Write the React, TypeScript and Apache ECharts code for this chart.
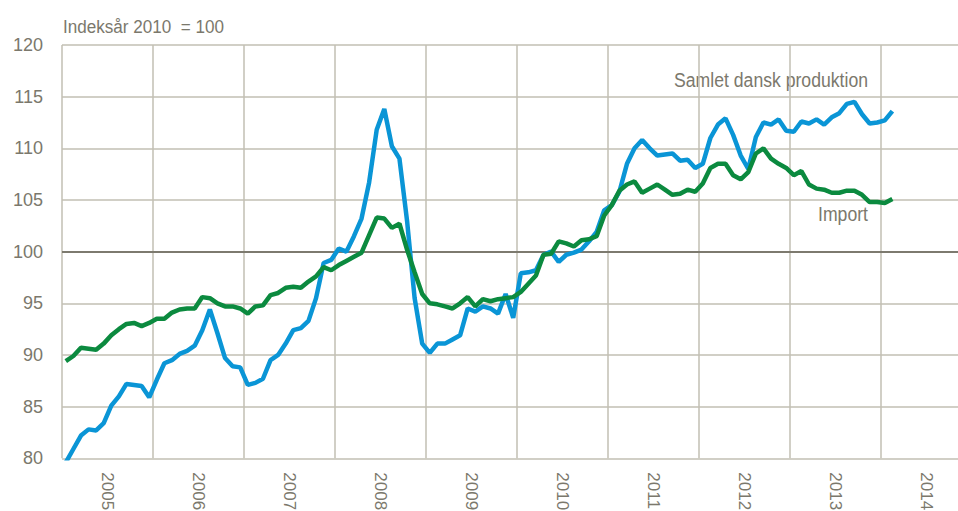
import React, { useEffect, useRef } from "react";
import * as echarts from "echarts";

const years = ["2005", "2006", "2007", "2008", "2009", "2010", "2011", "2012", "2013", "2014"];

const samletDanskProduktion = [
  79.6, 80.9, 82.2, 82.8, 82.7, 83.4, 85.1, 86.0, 87.2, 87.1, 87.0, 85.9,
  87.6, 89.2, 89.5, 90.1, 90.4, 90.9, 92.4, 94.4, 92.1, 89.7, 88.9, 88.8,
  87.1, 87.3, 87.7, 89.5, 90.0, 91.1, 92.4, 92.6, 93.3, 95.5, 98.9, 99.2,
  100.3, 100.0, 101.5, 103.2, 106.7, 111.8, 113.8, 110.2, 109.0, 103.0, 95.5, 91.1,
  90.2, 91.1, 91.1, 91.5, 91.9, 94.5, 94.2, 94.7, 94.5, 94.0, 95.9, 93.6,
  97.9, 98.0, 98.2, 99.7, 100.0, 99.0, 99.7, 99.9, 100.2, 101.0, 101.9, 104.0,
  104.5, 105.8, 108.5, 110.0, 110.8, 110.0, 109.3, 109.4, 109.5, 108.8, 108.9, 108.1,
  108.5, 111.0, 112.3, 112.9, 111.3, 109.3, 108.0, 111.1, 112.5, 112.3, 112.8, 111.7,
  111.6, 112.6, 112.4, 112.8, 112.3, 113.0, 113.4, 114.3, 114.5, 113.3, 112.4, 112.5,
  112.7, 113.6,
];

const importIndex = [
  89.4, 89.9, 90.7, 90.6, 90.5, 91.1, 91.9, 92.5, 93.0, 93.1, 92.8, 93.1,
  93.5, 93.5, 94.1, 94.4, 94.5, 94.5, 95.6, 95.5, 95.0, 94.7, 94.7, 94.5,
  94.0, 94.7, 94.8, 95.8, 96.0, 96.5, 96.6, 96.5, 97.1, 97.6, 98.5, 98.2,
  98.7, 99.1, 99.5, 99.9, 101.6, 103.3, 103.2, 102.3, 102.7, 100.2, 98.0, 95.9,
  95.0, 94.9, 94.7, 94.5, 95.0, 95.6, 94.7, 95.4, 95.2, 95.4, 95.5, 95.6,
  96.1, 96.9, 97.7, 99.7, 99.8, 101.0, 100.8, 100.5, 101.1, 101.2, 101.5, 103.5,
  104.5, 105.9, 106.5, 106.8, 105.7, 106.1, 106.5, 106.0, 105.5, 105.6, 106.0, 105.8,
  106.6, 108.1, 108.5, 108.5, 107.4, 107.0, 107.7, 109.5, 110.0, 109.0, 108.5, 108.1,
  107.4, 107.8, 106.5, 106.1, 106.0, 105.7, 105.7, 105.9, 105.9, 105.5, 104.8, 104.8,
  104.7, 105.1,
];

const FONT = "'Liberation Sans', Arial, sans-serif";
const TEXT = "#7b786c";
const GRID = "#c2bfb3";

export default function App() {
  const ref = useRef<HTMLDivElement>(null);
  useEffect(() => {
    if (!ref.current) return;
    const chart = echarts.init(ref.current, null, { renderer: "svg" });
    const toPoints = (arr: number[]) => arr.map((v, i) => [i + 0.5, v]);
    chart.setOption({
      animation: false,
      backgroundColor: "#ffffff",
      textStyle: { fontFamily: FONT },
      grid: { left: 62, top: 45, width: 910, height: 413.3, outerBoundsMode: "none", containLabel: false },
      xAxis: [
        {
          type: "value",
          min: 0,
          max: 120,
          interval: 12,
          axisLine: { show: false },
          axisTick: { show: false },
          axisLabel: { show: false },
          splitLine: { show: true, lineStyle: { color: GRID, width: 1.5 } },
        },
        {
          type: "category",
          position: "bottom",
          data: years,
          boundaryGap: true,
          axisLine: { show: false },
          axisTick: { show: false },
          splitLine: { show: false },
          axisLabel: {
            rotate: -90,
            margin: 14,
            fontSize: 17,
            color: TEXT,
            fontFamily: FONT,
            padding: [8, 0, 0, 0],
          },
        },
      ],
      yAxis: {
        type: "value",
        min: 80,
        max: 120,
        interval: 5,
        axisLine: { show: false },
        axisTick: { show: false },
        axisLabel: { margin: 19, fontSize: 18, color: TEXT, fontFamily: FONT },
        splitLine: { show: true, lineStyle: { color: GRID, width: 1.5 } },
      },
      series: [
        {
          name: "Samlet dansk produktion",
          type: "line",
          xAxisIndex: 0,
          data: toPoints(samletDanskProduktion),
          symbol: "none",
          lineStyle: { color: "#0a95d6", width: 4.5 },
          z: 3,
          markLine: {
            silent: true,
            symbol: "none",
            label: { show: false },
            lineStyle: { color: "#7d7a6f", width: 2, type: "solid" },
            data: [{ yAxis: 100 }],
            z: 1,
          },
        },
        {
          name: "Import",
          type: "line",
          xAxisIndex: 0,
          data: toPoints(importIndex),
          symbol: "none",
          lineStyle: { color: "#0b8a3f", width: 4.5 },
          z: 4,
        },
      ],
      graphic: [
        {
          type: "text",
          x: 63,
          y: 27,
          scaleX: 0.9,
          style: {
            text: "Indeksår 2010  = 100",
            fontSize: 19,
            fill: TEXT,
            fontFamily: FONT,
            align: "left",
            verticalAlign: "middle",
          },
        },
        {
          type: "text",
          x: 868,
          y: 79,
          scaleX: 0.84,
          style: {
            text: "Samlet dansk produktion",
            fontSize: 21,
            fill: TEXT,
            fontFamily: FONT,
            align: "right",
            verticalAlign: "middle",
          },
        },
        {
          type: "text",
          x: 868,
          y: 213,
          scaleX: 0.84,
          style: {
            text: "Import",
            fontSize: 21,
            fill: TEXT,
            fontFamily: FONT,
            align: "right",
            verticalAlign: "middle",
          },
        },
      ],
    });
    return () => chart.dispose();
  }, []);
  return (
    <div
      ref={ref}
      style={{ position: "absolute", left: 0, top: 0, width: 958, height: 511, overflow: "hidden" }}
    />
  );
}
